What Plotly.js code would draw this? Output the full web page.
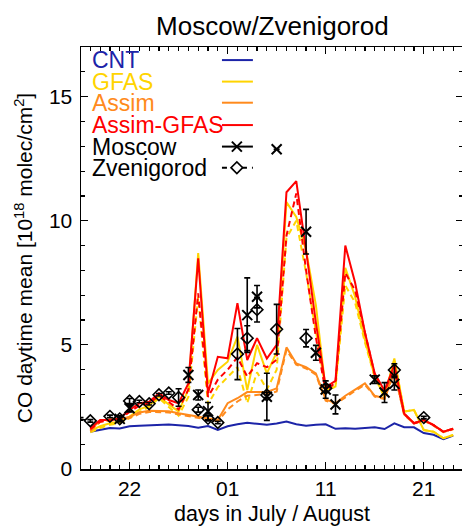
<!DOCTYPE html>
<html><head><meta charset="utf-8">
<script src="https://cdn.plot.ly/plotly-3.0.1.min.js"></script>
<style>html,body{margin:0;padding:0;overflow:hidden;background:#fff}</style>
</head><body><div id="chart" style="width:464px;height:527px"></div>
<script>
// x = day counted from 1 July (32 = 01 August)
const modelDays = [18,19,20,21,22,23,24,25,26,27,28,29,30,31,32,33,34,35,36,37,38,39,40,41,42,43,44,45,46,47,48,49,50,51,52,53,54,55];
const cnt = [1.50,1.58,1.65,1.63,1.72,1.74,1.76,1.78,1.79,1.76, 1.73,1.66,1.73,1.57,1.72,1.80,1.86,1.82,1.78,1.83, 1.91,1.80,1.74,1.78,1.80,1.62,1.64,1.62,1.66,1.68, 1.61,1.84,1.68,1.68,1.45,1.38,1.20,1.35];
const gfasMoscow = [1.54,1.72,1.84,1.91,2.11,2.40,2.55,2.92,2.60,2.32, 3.20,8.70,3.45,3.99,4.32,5.33,3.18,5.00,3.85,4.70, 10.75,10.15,8.80,6.60,3.18,3.32,8.10,6.94,5.20,3.72, 2.91,4.45,2.31,2.38,1.57,1.50,1.24,1.37];
const gfasZven = [1.48,1.65,1.78,1.85,2.05,2.30,2.50,2.85,2.50,2.15, 2.90,6.94,2.60,3.30,3.70,4.10,2.65,3.90,3.20,4.00, 9.30,10.00,7.90,5.50,3.20,3.30,7.40,6.70,5.10,3.70, 2.90,4.40,2.31,2.38,1.57,1.50,1.24,1.37];
const assimMoscow = [1.57,1.95,2.00,2.02,2.10,2.28,2.35,2.35,2.33,2.25, 2.18,2.08,2.04,1.97,2.65,2.85,3.10,3.11,3.10,3.25, 4.90,4.25,4.10,3.85,2.80,2.65,2.95,3.20,3.45,2.95, 2.85,3.95,2.20,1.85,1.97,1.77,1.50,1.62];
const assimZven = [1.52,1.90,1.95,1.97,2.05,2.22,2.30,2.30,2.28,2.20, 2.13,2.03,1.99,1.92,2.40,2.72,2.95,3.00,3.02,3.12, 4.80,4.20,4.05,3.80,2.75,2.62,2.90,3.15,3.40,2.92, 2.82,3.90,2.18,1.83,1.95,1.75,1.48,1.60];
const agMoscow = [1.64,1.97,1.97,2.04,2.38,2.65,2.71,3.05,2.78,2.65, 3.45,8.49,3.05,4.52,4.46,6.68,4.39,5.27,4.45,5.00, 11.15,11.60,8.80,5.90,3.30,3.55,9.00,7.50,5.50,3.85, 3.15,4.20,2.24,1.84,1.97,1.77,1.50,1.62];
const agZven = [1.60,1.90,1.95,2.00,2.30,2.55,2.65,2.95,2.70,2.40, 3.20,7.08,2.90,3.60,4.00,4.50,3.72,4.26,4.10,4.40, 9.40,11.10,8.00,5.30,3.10,3.50,7.90,7.20,5.50,3.80, 3.12,4.10,2.22,1.84,1.97,1.77,1.50,1.62];

const moscowDays = [21,22,28,29,30,34,35,36,37,40,41,42,43,47,48,49];
const moscowObs  = [2.02,2.45,3.79,2.98,2.33,6.20,6.94,2.91,12.88,9.56,4.68,3.20,2.60,3.60,3.08,3.43];
const moscowErr  = [0.12,0.15,0.30,0.20,0.35,1.50,0.45,0.95,0,0.90,0.30,0.35,0.38,0.15,0.40,0.25];

const zvenDays = [17,18,20,21,22,23,24,25,26,27,29,30,31,33,34,35,36,37,40,42,49,52];
const zvenObs  = [2.02,1.94,2.12,2.02,2.74,2.72,2.63,2.99,3.06,2.88,2.39,2.04,1.87,4.63,5.27,6.42,2.98,5.63,5.27,3.25,3.99,2.07];
const zvenErr  = [0.05,0.05,0.05,0.05,0.10,0.05,0.05,0.05,0.05,0.35,0.10,0.10,0.05,1.03,0.50,0.50,0.10,1.00,0.35,0.15,0.25,0.05];

const tickVals = [22,32,42,52];
const tickText = ['22','01','11','21'];

const legendNames = ['CNT','GFAS','Assim','Assim-GFAS','Moscow','Zvenigorod'];

const BLUE='#1c24a8', GOLD='#ffd400', ORANGE='#ff8a1c', RED='#ff0000';
const FONT='Liberation Sans, Arial, sans-serif';
const DASH='6px,4px';

function line(y,color,dash){
  return {x:modelDays,y:y,mode:'lines',type:'scatter',line:{color:color,width:2,dash:dash||'solid'},hoverinfo:'skip'};
}
const traces = [
  line(cnt,BLUE),
  line(gfasZven,GOLD,DASH), line(gfasMoscow,GOLD),
  line(assimZven,ORANGE,DASH), line(assimMoscow,ORANGE),
  line(agZven,RED,DASH), line(agMoscow,RED),
  {x:zvenDays,y:zvenObs,mode:'markers',type:'scatter',cliponaxis:false,
   marker:{symbol:'diamond-open',size:9,color:'black',line:{width:1.6,color:'black'}},
   error_y:{type:'data',array:zvenErr,color:'black',thickness:1.6,width:3}},
  {x:moscowDays,y:moscowObs,mode:'markers',type:'scatter',cliponaxis:false,
   marker:{symbol:'x-thin-open',size:10,color:'black',line:{width:2,color:'black'}},
   error_y:{type:'data',array:moscowErr,color:'black',thickness:1.6,width:3}}
];

// legend keys (drawn on a hidden 0..1 overlay axis)
const keyX0=0.369, keyX1=0.450, keyXm=0.408;
const keyY=[0.969,0.918,0.868,0.815,0.764,0.714];
const keyColors=[BLUE,GOLD,ORANGE,RED,'black','black'];
for(let i=0;i<4;i++){
  traces.push({x:[keyX0,keyX1],y:[keyY[i],keyY[i]],xaxis:'x2',yaxis:'y2',mode:'lines',line:{color:keyColors[i],width:2},hoverinfo:'skip'});
}
traces.push({x:[keyX0,keyX1],y:[keyY[4],keyY[4]],xaxis:'x2',yaxis:'y2',mode:'lines',line:{color:'black',width:2},hoverinfo:'skip'});
traces.push({x:[keyXm],y:[keyY[4]],xaxis:'x2',yaxis:'y2',mode:'markers',marker:{symbol:'x-thin-open',size:10,color:'black',line:{width:2,color:'black'}},hoverinfo:'skip'});
traces.push({x:[keyX0,keyX1],y:[keyY[5],keyY[5]],xaxis:'x2',yaxis:'y2',mode:'lines',line:{color:'black',width:2,dash:'5px,5px'},hoverinfo:'skip'});
traces.push({x:[keyXm],y:[keyY[5]],xaxis:'x2',yaxis:'y2',mode:'markers',marker:{symbol:'diamond',size:9,color:'white',line:{width:1.6,color:'black'}},hoverinfo:'skip'});

const annotations = legendNames.map((n,i)=>({
  text:n, xref:'paper', yref:'paper', x:0.0236, y:keyY[i], xanchor:'left', yanchor:'middle',
  showarrow:false, font:{family:FONT,size:23,color:keyColors[i]}
}));

const axisCommon = {
  showline:true, linecolor:'black', linewidth:1.5, mirror:'ticks',
  ticks:'inside', ticklen:7, tickwidth:1.2, tickcolor:'black',
  showgrid:false, zeroline:false,
  tickfont:{family:FONT,size:21,color:'black'}
};

const layout = {
  width:464, height:527,
  margin:{l:81,r:1,t:47,b:58},
  paper_bgcolor:'white', plot_bgcolor:'white',
  showlegend:false,
  title:{text:'Moscow/Zvenigorod', font:{family:FONT,size:26,color:'black'}, x:0.587, xanchor:'center', y:0.951, yanchor:'middle'},
  xaxis:Object.assign({}, axisCommon, {
    range:[17.05,56.0], tickmode:'array', tickvals:tickVals, ticktext:tickText,
    minor:{tickmode:'linear', tick0:0, dtick:1, ticks:'inside', ticklen:4, tickcolor:'black', tickwidth:1.2},
    title:{text:'days in July / August', font:{family:FONT,size:21.5,color:'black'}, standoff:7}
  }),
  yaxis:Object.assign({}, axisCommon, {
    range:[0,17], tickmode:'linear', tick0:0, dtick:5, ticklabelstandoff:3,
    minor:{tickmode:'linear', tick0:0, dtick:1, ticks:'inside', ticklen:4, tickcolor:'black', tickwidth:1.2},
    title:{text:'CO daytime mean [10<sup>18</sup> molec/cm<sup>2</sup>]', font:{family:FONT,size:21,color:'black'}, standoff:10}
  }),
  xaxis2:{overlaying:'x', range:[0,1], visible:false},
  yaxis2:{overlaying:'y', range:[0,1], visible:false},
  annotations:annotations
};

Plotly.newPlot('chart', traces, layout, {staticPlot:true, displayModeBar:false});
</script></body></html>
